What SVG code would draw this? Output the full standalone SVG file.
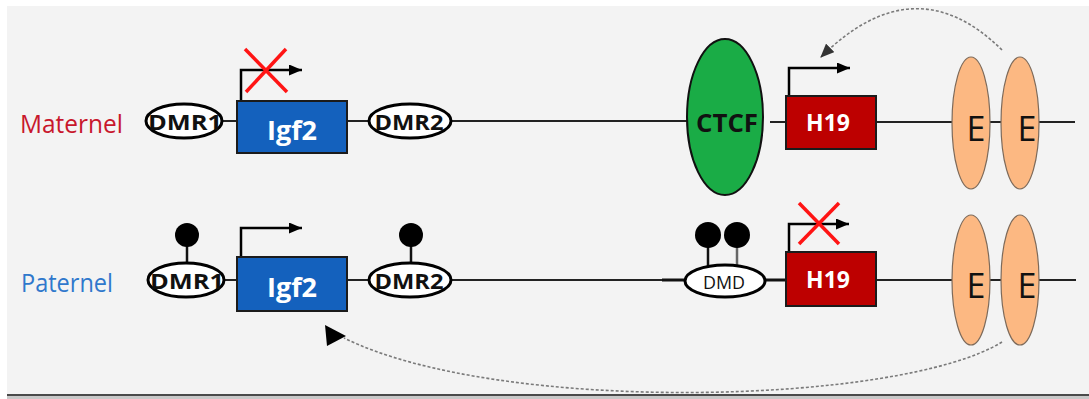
<svg xmlns="http://www.w3.org/2000/svg" width="1089" height="399" viewBox="0 0 1089 399">
  <style>
    .dna { stroke: #222; stroke-width: 2; fill: none; }
    .dna-thick { stroke: #111; stroke-width: 3; fill: none; }
    .dmr { fill: #fff; stroke: #000; stroke-width: 3; }
    .dmr-text { font-family: "Open Sans", "Liberation Sans", sans-serif; font-weight: bold; font-size: 21px; fill: #111; text-anchor: middle; }
    .dmd-text { font-family: "Open Sans", "Liberation Sans", sans-serif; font-size: 19px; fill: #111; text-anchor: middle; }
    .igf2 { fill: #1461bd; stroke: #1b1b1b; stroke-width: 2; }
    .h19 { fill: #bd0000; stroke: #1b1b1b; stroke-width: 2; }
    .gene-text { font-family: "Open Sans", "Liberation Sans", sans-serif; font-weight: bold; fill: #fff; text-anchor: middle; }
    .ctcf { fill: #1aac46; stroke: #111; stroke-width: 2; }
    .enh { fill: #fcb882; stroke: #7d6a5a; stroke-width: 1.2; }
    .enh-text { font-family: "Open Sans", "Liberation Sans", sans-serif; font-size: 34px; fill: #111; text-anchor: middle; }
    .promoter { stroke: #000; stroke-width: 2.5; fill: none; marker-end: url(#head); }
    .block { stroke: #ff1414; stroke-width: 3.5; stroke-linecap: butt; }
    .methyl { fill: #000; }
    .stem { stroke: #111; stroke-width: 2.5; }
    .loop { stroke: #7a7a7a; stroke-width: 1.6; stroke-dasharray: 3 2; fill: none; }
    .label { font-family: "Open Sans", "Liberation Sans", sans-serif; font-size: 25px; }
  </style>
  <defs>
    <marker id="head" markerUnits="userSpaceOnUse" markerWidth="13" markerHeight="11" refX="13" refY="5.5" orient="auto">
      <path d="M0,0 L13,5.5 L0,11 z" fill="#000"/>
    </marker>
    <marker id="loopHead" markerUnits="userSpaceOnUse" markerWidth="14" markerHeight="12" refX="13" refY="6" orient="auto">
      <path d="M0,0 L14,6 L0,12 z" fill="#333"/>
    </marker>
  </defs>

  <!-- page -->
  <rect x="0" y="0" width="1089" height="399" fill="#ffffff"/>
  <rect x="7" y="6" width="1082" height="388" fill="#f3f3f3"/>
  <rect x="7" y="394" width="1082" height="2" fill="#4a4a4a"/>
  <rect x="7" y="396" width="1082" height="3" fill="#c8c8c8"/>

  <!-- allele labels -->
  <text class="label" x="20" y="133" fill="#c8172c" textLength="103" lengthAdjust="spacingAndGlyphs">Maternel</text>
  <text class="label" x="21" y="292" fill="#2f78cc" textLength="92" lengthAdjust="spacingAndGlyphs">Paternel</text>

  <g id="connectors">
    <!-- maternal DNA strand -->
    <line class="dna" x1="223" y1="121" x2="237" y2="121"/>
    <line class="dna" x1="347" y1="121" x2="368" y2="121"/>
    <line class="dna" x1="452" y1="121" x2="687" y2="121"/>
    <line class="dna" x1="770" y1="122" x2="786" y2="122"/>
    <line class="dna" x1="876" y1="122" x2="1075" y2="122"/>
    <!-- paternal DNA strand -->
    <line class="dna" x1="225" y1="280" x2="237" y2="280"/>
    <line class="dna" x1="347" y1="280" x2="368" y2="280"/>
    <line class="dna" x1="452" y1="280" x2="662" y2="280"/>
    <line class="dna-thick" x1="662" y1="280" x2="685" y2="280"/>
    <line class="dna-thick" x1="765" y1="280" x2="786" y2="280"/>
    <line class="dna" x1="876" y1="280" x2="1076" y2="280"/>

    <!-- promoters -->
    <path class="promoter" d="M241,101 V70 H302"/>
    <path class="promoter" d="M241,257 V228 H302"/>
    <path class="promoter" d="M789,96 V68 H850"/>
    <path class="promoter" d="M789,252 V224 H849"/>

    <!-- enhancer loops -->
    <path class="loop" d="M1002,50 Q915,-36 821,57" marker-end="url(#loopHead)"/>
    <path class="loop" d="M1002,342 C900,405 500,415 344,338"/>
    <polygon points="325,325 327,346 346,336" fill="#000"/>
  </g>

  <!-- silenced promoters -->
  <g id="block-igf2-maternal">
    <line class="block" x1="245" y1="49" x2="287" y2="92"/>
    <line class="block" x1="286" y1="49" x2="246" y2="92"/>
  </g>
  <g id="block-h19-paternal">
    <line class="block" x1="799" y1="203" x2="839" y2="244"/>
    <line class="block" x1="839" y1="203" x2="799" y2="244"/>
  </g>

  <!-- maternal allele -->
  <g id="dmr1-m">
    <ellipse class="dmr" cx="184" cy="121" rx="38" ry="17"/>
    <text class="dmr-text" x="185" y="130" textLength="74" lengthAdjust="spacingAndGlyphs">DMR1</text>
  </g>
  <g id="igf2-m">
    <rect class="igf2" x="237" y="101" width="110" height="52"/>
    <text class="gene-text" x="292" y="140" font-size="27">Igf2</text>
  </g>
  <g id="dmr2-m">
    <ellipse class="dmr" cx="410" cy="121" rx="41" ry="17"/>
    <text class="dmr-text" x="409" y="130" textLength="69" lengthAdjust="spacingAndGlyphs">DMR2</text>
  </g>
  <g id="ctcf">
    <ellipse class="ctcf" cx="725" cy="117" rx="38" ry="78"/>
    <text x="727" y="132" font-family="'Open Sans', 'Liberation Sans', sans-serif" font-weight="bold" font-size="25" fill="#111" text-anchor="middle" textLength="62" lengthAdjust="spacingAndGlyphs">CTCF</text>
  </g>
  <g id="h19-m">
    <rect class="h19" x="786" y="96" width="90" height="53"/>
    <text class="gene-text" x="828" y="131" font-size="23">H19</text>
  </g>
  <g id="enh1-m">
    <ellipse class="enh" cx="971" cy="123" rx="19" ry="66"/>
    <text class="enh-text" x="976" y="141">E</text>
  </g>
  <g id="enh2-m">
    <ellipse class="enh" cx="1020" cy="123" rx="19" ry="66"/>
    <text class="enh-text" x="1027" y="141">E</text>
  </g>

  <!-- paternal allele -->
  <g id="dmr1-p">
    <line class="stem" x1="187" y1="246" x2="187" y2="264"/>
    <circle class="methyl" cx="187" cy="235" r="12"/>
    <ellipse class="dmr" cx="186" cy="280" rx="38" ry="17"/>
    <text class="dmr-text" x="187" y="289" textLength="74" lengthAdjust="spacingAndGlyphs">DMR1</text>
  </g>
  <g id="igf2-p">
    <rect class="igf2" x="237" y="257" width="110" height="54"/>
    <text class="gene-text" x="292" y="297" font-size="27">Igf2</text>
  </g>
  <g id="dmr2-p">
    <line class="stem" x1="411" y1="246" x2="411" y2="264"/>
    <circle class="methyl" cx="411" cy="235" r="12"/>
    <ellipse class="dmr" cx="410" cy="280" rx="41" ry="17"/>
    <text class="dmr-text" x="409" y="289" textLength="69" lengthAdjust="spacingAndGlyphs">DMR2</text>
  </g>
  <g id="dmd">
    <line class="stem" x1="708" y1="247" x2="708" y2="266"/>
    <line x1="737" y1="247" x2="737" y2="266" stroke="#666" stroke-width="2.5"/>
    <circle class="methyl" cx="708" cy="235" r="13"/>
    <circle class="methyl" cx="737" cy="235" r="13"/>
    <ellipse class="dmr" cx="725" cy="281" rx="40" ry="16"/>
    <text class="dmd-text" x="724" y="289" textLength="42" lengthAdjust="spacingAndGlyphs">DMD</text>
  </g>
  <g id="h19-p">
    <rect class="h19" x="786" y="252" width="90" height="54"/>
    <text class="gene-text" x="828" y="288" font-size="23">H19</text>
  </g>
  <g id="enh1-p">
    <ellipse class="enh" cx="971" cy="280" rx="19" ry="65"/>
    <text class="enh-text" x="976" y="298">E</text>
  </g>
  <g id="enh2-p">
    <ellipse class="enh" cx="1020" cy="280" rx="19" ry="65"/>
    <text class="enh-text" x="1027" y="298">E</text>
  </g>
</svg>
